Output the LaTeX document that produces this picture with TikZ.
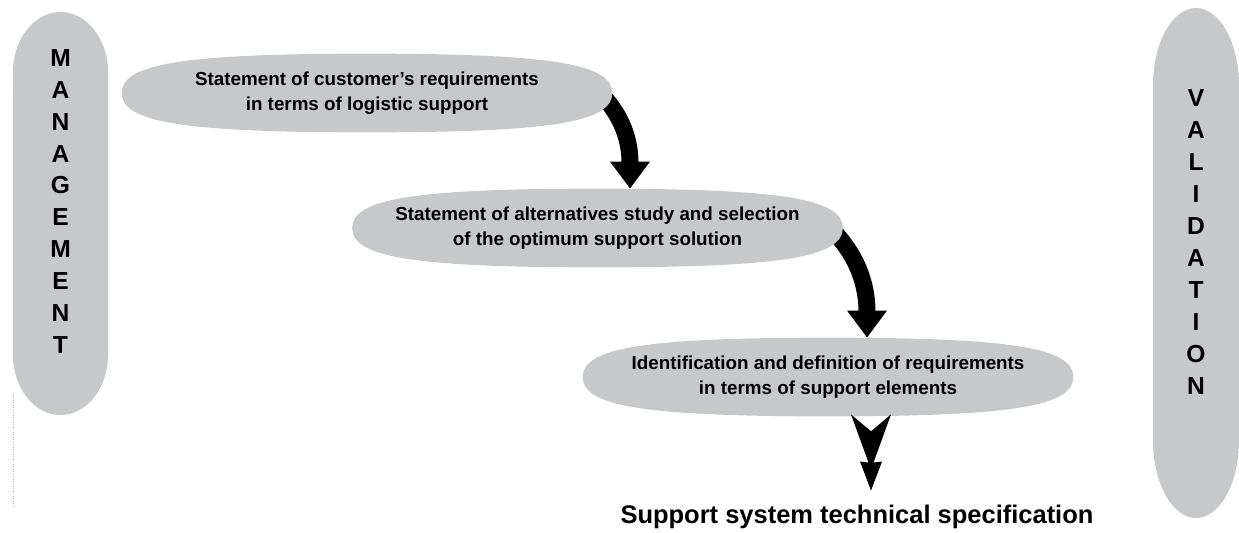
\documentclass[tikz,border=0pt]{standalone}
\usepackage{fontspec}
\setmainfont{Liberation Sans}
\usetikzlibrary{shapes,arrows.meta,positioning,calc,backgrounds}
\definecolor{pillgray}{RGB}{199,200,202}

\begin{document}
\begin{tikzpicture}[auto]
    % Define styles
    \tikzstyle{stage} = [rectangle, minimum width=9.8cm, minimum height=1.56cm, inner sep=0pt, align=center, font=\fontsize{10.7}{14.2}\selectfont\bfseries]
    \tikzstyle{sidetext} = [align=center, inner sep=0pt, font=\fontsize{14}{18.2}\selectfont\bfseries]
    \tikzstyle{bendarrow} = [line width=0.34cm, -{Triangle[length=0.54cm, width=0.76cm]}]
    \tikzstyle{dartfill} = [fill=black]

    \useasboundingbox (0,0) rectangle (24.78,-10.64);

    % Side bars
    \fill[pillgray] (0.26,-1.44) arc[start angle=180, end angle=0, x radius=0.95cm, y radius=1.2cm]
        -- (2.16,-7.1) arc[start angle=0, end angle=-180, x radius=0.95cm, y radius=1.2cm] -- cycle;
    \fill[pillgray] (23.06,-1.71) arc[start angle=180, end angle=0, x radius=0.86cm, y radius=1.55cm]
        -- (24.78,-8.81) arc[start angle=0, end angle=-180, x radius=0.86cm, y radius=1.55cm] -- cycle;
    \draw[gray!50, densely dotted] (0.26,-7.85) -- (0.26,-10.16);

    % Nodes
    \node[sidetext] (mgmt) at (1.21,-4.03) {M\\A\\N\\A\\G\\E\\M\\E\\N\\T};
    \node[sidetext] (valid) at (23.92,-4.84) {V\\A\\L\\I\\D\\A\\T\\I\\O\\N};
    \node[stage] (req) at (7.34,-1.86) {Statement of customer's requirements\\in terms of logistic support};
    \node[stage] (alt) at (11.95,-4.56) {Statement of alternatives study and selection\\of the optimum support solution};
    \node[stage] (elem) at (16.56,-7.54) {Identification and definition of requirements\\in terms of support elements};
    \node[anchor=base, inner sep=0pt, outer sep=0.28cm, font=\fontsize{14.5}{17}\selectfont\bfseries] (spec) at (17.14,-10.46) {Support system technical specification};

    % Arrows and stage outlines, behind the text
    \begin{pgfonlayer}{background}
    \draw[bendarrow] ([xshift=-0.25cm]req.east) to[out=-45, in=90] ([xshift=0.65cm]alt.north);
    \draw[bendarrow] ([xshift=-0.25cm]alt.east) to[out=-45, in=90] ([xshift=0.78cm]elem.north);
    \foreach \n in {req,alt,elem}
        \fill[pillgray] (\n.west) .. controls +(0,0.58) and +(-3.7,0) .. (\n.north)
            .. controls +(3.7,0) and +(0,0.58) .. (\n.east)
            .. controls +(0,-0.58) and +(3.7,0) .. (\n.south)
            .. controls +(-3.7,0) and +(0,-0.58) .. (\n.west) -- cycle;
    \end{pgfonlayer}

    % Double dart down to the result
    \coordinate (dtop) at ([xshift=0.86cm]elem.south);
    \coordinate (dtip) at ([xshift=0.28cm]spec.north);
    \fill[dartfill] ($(dtop)+(-0.4,0.04)$) -- ($(dtop)+(0,-0.3)$) -- ($(dtop)+(0.4,0.04)$)
        -- ($(dtip)+(0.05,0.56)$) -- ($(dtip)+(0.22,0.58)$) -- (dtip)
        -- ($(dtip)+(-0.22,0.58)$) -- ($(dtip)+(-0.05,0.56)$) -- cycle;
\end{tikzpicture}
\end{document}
